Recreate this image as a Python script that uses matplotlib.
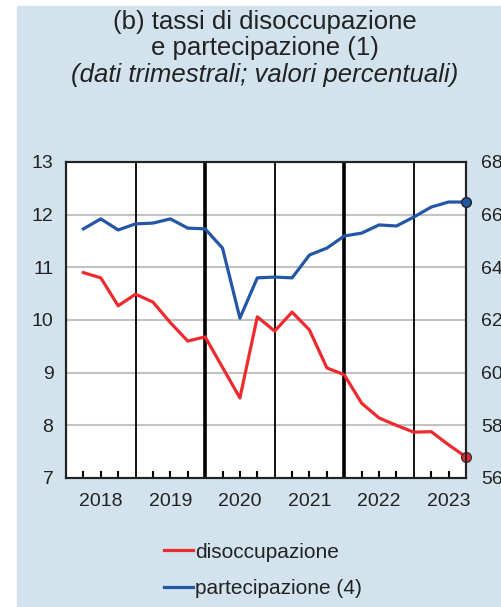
import matplotlib.pyplot as plt
from matplotlib.patches import Rectangle

plt.rcParams['font.family'] = ['Liberation Sans', 'DejaVu Sans']

# quarterly data, 2018Q1 .. 2023Q3
quarters = list(range(1, 24))
disoccupazione = [10.9, 10.8, 10.27, 10.49, 10.34, 9.95, 9.6, 9.68, 9.1, 8.52,
                  10.06, 9.79, 10.15, 9.81, 9.09, 8.96, 8.42, 8.14, 8.0, 7.87,
                  7.88, 7.63, 7.40]
partecipazione = [65.46, 65.84, 65.42, 65.65, 65.68, 65.84, 65.49, 65.46, 64.73, 62.07,
                  63.6, 63.63, 63.6, 64.47, 64.73, 65.19, 65.3, 65.61, 65.57, 65.91,
                  66.29, 66.48, 66.48]
years = ['2018', '2019', '2020', '2021', '2022', '2023']

red = '#ee2a2e'
blue = '#2456a6'
bg = '#d2e3ed'

fig = plt.figure(figsize=(5.02, 6.07), dpi=100)
fig.patches.append(Rectangle((17 / 502, 0), 1 - 17 / 502, 1 - 6 / 607,
                             transform=fig.transFigure, color=bg, zorder=-10))

fig.text(0.528, 1 - 22 / 607, '(b) tassi di disoccupazione', ha='center', va='center', fontsize=18.5, color='#222222')
fig.text(0.528, 1 - 48 / 607, 'e partecipazione (1)', ha='center', va='center', fontsize=18.5, color='#222222')
fig.text(0.528, 1 - 75 / 607, '(dati trimestrali; valori percentuali)', ha='center', va='center',
         fontsize=18.5, style='italic', color='#222222')

ax = fig.add_axes([66 / 502, 129 / 607, 400 / 502, 316 / 607])
ax.set_facecolor('white')
ax.set_xlim(0, 23)
ax.set_ylim(7, 13)
ax.set_yticks(range(7, 14))
for v in range(8, 13):
    ax.axhline(v, color='#c2c2c2', lw=1.5, zorder=1)
for i in range(1, 6):
    ax.axvline(i * 4, color='black', lw=2.6 if i % 2 == 0 else 1.3, zorder=2)

ax.plot(quarters, disoccupazione, color=red, lw=2.3, zorder=3, label='disoccupazione')
ax.plot(quarters[-1], disoccupazione[-1], 'o', color=red, mec='#333333', ms=7, zorder=5, clip_on=False)

ax2 = ax.twinx()
ax2.set_ylim(56, 68)
ax2.set_yticks(range(56, 69, 2))
ax2.plot(quarters, partecipazione, color=blue, lw=2.3, zorder=3)
ax2.plot(quarters[-1], partecipazione[-1], 'o', color=blue, mec='#222222', ms=7, zorder=5, clip_on=False)
ax.plot([], [], color=blue, lw=2.3, label='partecipazione (4)')

ax.set_xticks([q for q in range(1, 23) if q % 4 != 0])
ax.set_xticklabels([])
ax.tick_params(axis='x', which='major', direction='in', length=5, width=1.5, color='black')
ax.set_xticks([2 + 4 * i for i in range(len(years))], minor=True)
ax.set_xticklabels(years, minor=True)
ax.xaxis.remove_overlapping_locs = False
ax.tick_params(axis='x', which='minor', length=0, pad=11, labelsize=14, labelcolor='#222222')
ax.tick_params(axis='y', length=0, pad=9, labelsize=14, labelcolor='#222222')
ax2.tick_params(axis='y', length=0, pad=11, labelsize=14, labelcolor='#222222')

for a in (ax, ax2):
    for s in a.spines.values():
        s.set_color('#222222')
        s.set_linewidth(1.5)

leg = ax.legend(loc='upper left', bbox_to_anchor=(145 / 502, 1 - 524 / 607),
                bbox_transform=fig.transFigure, frameon=False, fontsize=15,
                handlelength=1.4, handletextpad=0.1, labelspacing=0.85)
for t in leg.get_texts():
    t.set_color('#222222')

fig.savefig('out.png', dpi=100)
